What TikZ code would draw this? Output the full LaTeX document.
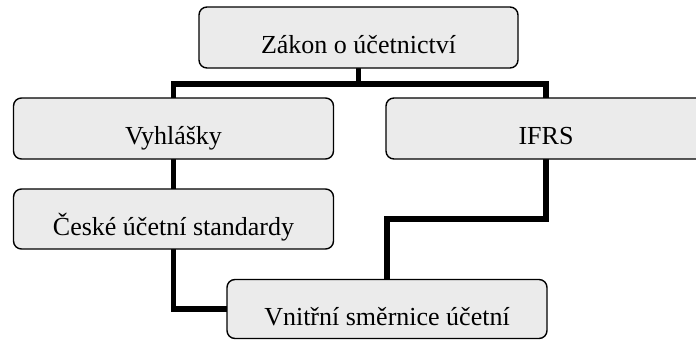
\documentclass[tikz,border=0pt]{standalone}
\usepackage{fontspec}
\setmainfont{Liberation Serif}
\usetikzlibrary{backgrounds}
\definecolor{boxfill}{HTML}{EBEBEB}
\tikzset{
  box/.style={draw=black, line width=1.4pt, fill=boxfill, rounded corners=8pt,
    minimum width=320pt, minimum height=61pt, inner sep=0pt,
    text height=38pt, text depth=6pt,
    font=\fontsize{26}{30}\selectfont},
  conn/.style={draw=black, line width=5.5pt, line join=miter, line cap=rect}
}
\begin{document}
\begin{tikzpicture}[x=1pt,y=-1pt]
\useasboundingbox (0,0) rectangle (696,340);
\node[box, minimum width=319pt] (zakon) at (358.5,37.5) {Zákon o účetnictví};
\node[box] (vyhl) at (173.5,128.5) {Vyhlášky};
\node[box] (ifrs) at (546,128.5) {IFRS};
\node[box, minimum height=60pt] (ceske) at (173.5,219) {České účetní standardy};
\node[box, minimum height=59pt] (vnitr) at (387,309) {Vnitřní směrnice účetní};
\coordinate (bus) at (0,84);
\coordinate (mid) at (0,219);
\begin{scope}[on background layer]
\draw[conn] (vyhl.north) |- (bus -| ifrs.north) -- (ifrs.north);
\draw[conn] (zakon.south) -- (zakon.south |- bus);
\draw[conn] (vyhl.south) -- (ceske.north);
\draw[conn] (ceske.south) |- (vnitr.west);
\draw[conn] (ifrs.south) -- (ifrs.south |- mid) -| (vnitr.north);
\end{scope}
\end{tikzpicture}
\end{document}
